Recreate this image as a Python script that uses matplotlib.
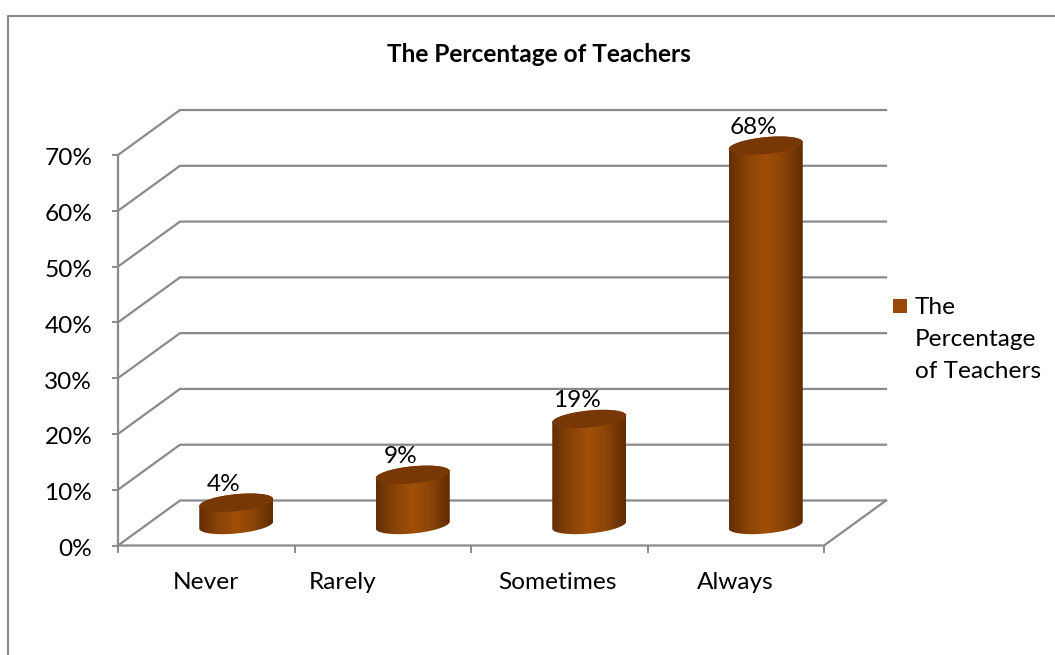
import numpy as np
import matplotlib
matplotlib.use('Agg')
import matplotlib.pyplot as plt
from matplotlib.colors import LinearSegmentedColormap
from matplotlib.lines import Line2D
from matplotlib.patches import Polygon, Rectangle
from matplotlib.transforms import Affine2D

categories = ['Never', 'Rarely', 'Sometimes', 'Always']
values = [4, 9, 19, 68]
value_labels = ['4%', '9%', '19%', '68%']
y_ticks = [0, 10, 20, 30, 40, 50, 60, 70]
y_tick_labels = ['0%', '10%', '20%', '30%', '40%', '50%', '60%', '70%']
title = 'The Percentage of Teachers'
legend_lines = ['The', 'Percentage', 'of Teachers']

W, H = 1055, 655
GREY = '#8a8a8a'
FS = 17.6
plt.rcParams['font.family'] = ['Lato', 'DejaVu Sans']

fig = plt.figure(figsize=(W / 100, H / 100), dpi=100)
ax = fig.add_axes([118 / W, (H - 545.5) / H, 706 / W, 390.5 / H])
ax.set_xlim(0, 4)
ax.set_ylim(0, 70)
ax.patch.set_visible(False)
for s in ax.spines.values():
    s.set_visible(False)

# sizes in pixels, turned into data units
px_x = 4 / 706
px_y = 70 / 390.5
depth_x = 62 * px_x
depth_y = 45 * px_y

# outer frame, only top and left show in the picture
fig.add_artist(Line2D([8 / W, 8 / W, 1], [0, 1 - 16 / H, 1 - 16 / H], color=GREY, lw=1.5))

# walls and floor
for v in y_ticks:
    ax.plot([0, depth_x, 4 + depth_x], [v, v + depth_y, v + depth_y], color=GREY, lw=1.6,
            clip_on=False, zorder=1, solid_joinstyle='miter')
ax.plot([0, 4, 4 + depth_x], [0, 0, depth_y], color=GREY, lw=1.6, clip_on=False, zorder=1)
ax.plot([0, 0], [0, 70], color=GREY, lw=1.6, clip_on=False, zorder=1)

ax.set_yticks(y_ticks, y_tick_labels, fontsize=FS, color='black')
ax.set_xticks(range(5), [''] * 5)
ax.tick_params(axis='y', length=4.5, width=1.4, color=GREY, pad=14)
ax.tick_params(axis='x', length=5, width=1.4, color=GREY)

# y labels sit a little below their ticks
for lab in ax.get_yticklabels():
    lab.set_transform(lab.get_transform() + Affine2D().translate(0, -2))

# category labels are not all centred in the original
ax.set_xticks([0.5, 1.275, 2.49, 3.5], categories, minor=True, fontsize=FS)
ax.tick_params(axis='x', which='minor', length=0, pad=19)

# cylinders
cmap = LinearSegmentedColormap.from_list('cyl', ['#632e03', '#8a4306', '#a04f08', '#8a4306', '#5f2c03'])
grad = np.linspace(0, 1, 128).reshape(1, -1)
t = np.linspace(0, 2 * np.pi, 121)
rx = 37 * px_x
ry = 8.5 * px_y
tilt = 3.5 * px_y
base = 20.5 * px_y

for i, val in enumerate(values):
    cx = i + 0.5 + 30 * px_x
    top_y = val + base
    ex = cx + rx * np.cos(t)
    low = t[60:]
    outline = np.r_[
        np.c_[cx + rx * np.cos(low), base + ry * np.sin(low) + tilt * np.cos(low)],
        np.c_[cx + rx * np.cos(t[:61]), top_y + ry * np.sin(t[:61]) + tilt * np.cos(t[:61])],
    ]
    body = Polygon(outline, closed=True, fc='none', ec='none', transform=ax.transData, zorder=3)
    ax.add_patch(body)
    im = ax.imshow(grad, cmap=cmap, extent=[cx - rx, cx + rx, 0, top_y + 3 * ry], aspect='auto', zorder=3)
    im.set_clip_box(fig.bbox)
    im.set_clip_path(body)
    ax.fill(ex, top_y + ry * np.sin(t) + tilt * np.cos(t), color='#773805', lw=0, zorder=4, clip_on=False)
    ax.annotate(value_labels[i], (cx, top_y), xytext=(-9, 13), textcoords='offset points',
                ha='center', va='center', fontsize=FS, zorder=5, annotation_clip=False)

ax.set_xlim(0, 4)
ax.set_ylim(0, 70)

fig.text(539 / W, 1 - 55 / H, title, ha='center', va='center', fontsize=FS, fontweight='bold')

# legend
fig.add_artist(Rectangle((893 / W, 1 - 313 / H), 14 / W, 14 / H, transform=fig.transFigure,
                         fc='#98490a', ec='none'))
for line, y in zip(legend_lines, [307, 340, 371]):
    fig.text(915 / W, 1 - y / H, line, ha='left', va='center', fontsize=FS)

fig.savefig('out.png', dpi=100)
